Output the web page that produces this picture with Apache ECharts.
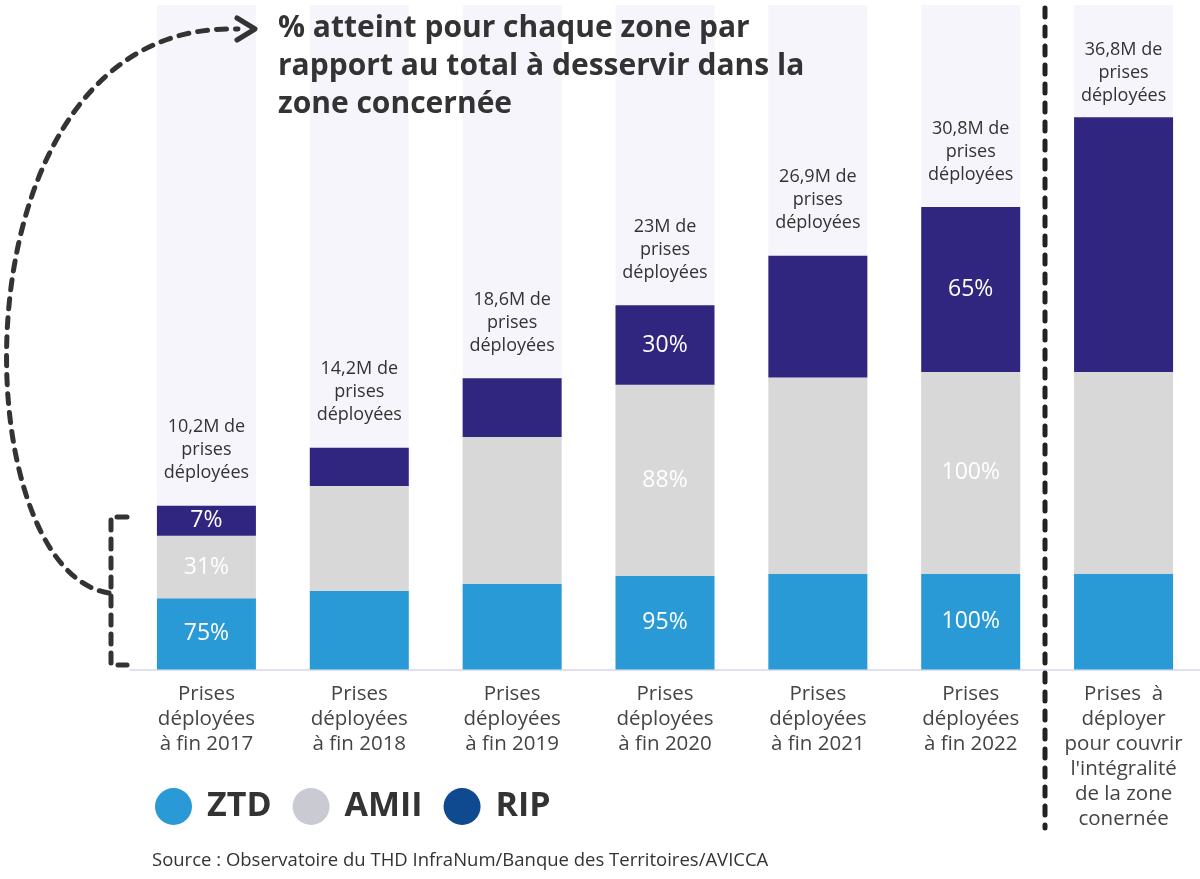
<!DOCTYPE html>
<html>
<head>
<meta charset="utf-8">
<script src="https://cdn.jsdelivr.net/npm/echarts@6/dist/echarts.min.js"></script>
<style>
html,body{margin:0;padding:0;background:#fff;}
#chart{width:1200px;height:879px;}
</style>
</head>
<body>
<div id="chart"></div>
<script>
// Categories (x axis labels)
var categories = [
  "Prises\ndéployées\nà fin 2017",
  "Prises\ndéployées\nà fin 2018",
  "Prises\ndéployées\nà fin 2019",
  "Prises\ndéployées\nà fin 2020",
  "Prises\ndéployées\nà fin 2021",
  "Prises\ndéployées\nà fin 2022",
  "Prises  à\ndéployer\npour couvrir\nl'intégralité\nde la zone\nconernée"
];
// Series values (millions of lines)
var ztdValues  = [4.75, 5.23, 5.72, 6.23, 6.37, 6.37, 6.37];
var amiiValues = [4.17, 7.00, 9.78, 12.75, 13.10, 13.47, 13.47];
var ripValues  = [2.00, 2.55, 3.91, 5.31, 8.12, 11.00, 16.97];
// Percentage labels inside segments
var ztdPct  = ["75%", "", "", "95%", "", "100%", ""];
var amiiPct = ["31%", "", "", "88%", "", "100%", ""];
var ripPct  = ["7%", "", "", "30%", "", "65%", ""];
// Total labels above the bars
var totalLabels = ["10,2M", "14,2M", "18,6M", "23M", "26,9M", "30,8M", "36,8M"];

var FONT = "Open Sans";
var chart = echarts.init(document.getElementById('chart'));

function pctLabel(arr, color) {
  return {
    show: true, position: 'inside', color: color, fontFamily: FONT,
    fontSize: 23, fontWeight: 500,
    formatter: function (p) { return arr[p.dataIndex]; }
  };
}

var totalData = ripValues.map(function (v, i) {
  if (i === ripValues.length - 1) return { value: 0, label: { distance: 10 } };
  return 0;
});

var option = {
  backgroundColor: '#ffffff',
  animation: false,
  title: [
    {
      text: "% atteint pour chaque zone par\nrapport au total à desservir dans la\nzone concernée",
      left: 278, top: 9, padding: 0,
      textStyle: { fontFamily: FONT, fontSize: 30, fontWeight: 'bold', color: '#333333', lineHeight: 38 }
    },
    {
      text: "Source : Observatoire du THD InfraNum/Banque des Territoires/AVICCA",
      left: 152, top: 851, padding: 0,
      textStyle: { fontFamily: FONT, fontSize: 18.5, fontWeight: 'normal', color: '#333333' }
    }
  ],
  legend: {
    left: 155, top: 788, padding: 0,
    icon: 'circle', itemWidth: 37, itemHeight: 37, itemGap: 21,
    selectedMode: false,
    textStyle: { fontFamily: FONT, fontSize: 34, fontWeight: 'bold', color: '#333333', padding: [0, 0, 0, 10] },
    data: [
      { name: 'ZTD', itemStyle: { color: '#2a9ad7' } },
      { name: 'AMII', itemStyle: { color: '#c9cad2' } },
      { name: 'RIP', itemStyle: { color: '#0f4a90' } }
    ]
  },
  grid: { left: 130, right: 0, top: 5, bottom: 209.5, containLabel: false },
  xAxis: {
    type: 'category', data: categories,
    axisLine: { show: true, lineStyle: { color: '#d6d6ec', width: 1.5 } },
    axisTick: { show: false },
    axisLabel: {
      interval: 0, margin: 12, color: '#444444', fontFamily: FONT, fontSize: 20.5, lineHeight: 25
    }
  },
  yAxis: {
    type: 'value', min: 0, max: 44.3, show: false,
    splitLine: { show: false }
  },
  series: [
    {
      name: 'ZTD', type: 'bar', stack: 'total', barWidth: 99,
      itemStyle: { color: '#2a9ad7' },
      showBackground: true,
      backgroundStyle: { color: '#f5f5fb' },
      label: pctLabel(ztdPct, '#ffffff'),
      data: ztdValues
    },
    {
      name: 'AMII', type: 'bar', stack: 'total', barWidth: 99,
      itemStyle: { color: '#d8d8d8' },
      label: pctLabel(amiiPct, '#ffffff'),
      data: amiiValues
    },
    {
      name: 'RIP', type: 'bar', stack: 'total', barWidth: 99,
      itemStyle: { color: '#30267f' },
      label: pctLabel(ripPct, '#ffffff'),
      data: ripValues
    },
    {
      name: 'RIP', type: 'bar', stack: 'total', barWidth: 99,
      silent: true, itemStyle: { color: 'transparent' },
      data: totalData,
      label: {
        show: true, position: 'top', distance: 21,
        color: '#333333', fontFamily: FONT, fontSize: 18, lineHeight: 23,
        formatter: function (p) { return totalLabels[p.dataIndex] + " de\nprises\ndéployées"; }
      }
    }
  ],
  graphic: [
    {
      type: 'line', silent: true, z: 100,
      shape: { x1: 1045, y1: 8, x2: 1045, y2: 828 },
      style: { stroke: '#222222', lineWidth: 5, lineDash: [9, 10], lineCap: 'round' }
    },
    {
      type: 'polyline', silent: true, z: 100,
      shape: { points: [[127, 517], [111, 517], [111, 665], [127, 665]] },
      style: { stroke: '#333333', fill: null, lineWidth: 5, lineDash: [10, 9], lineCap: 'round' }
    },
    {
      type: 'bezierCurve', silent: true, z: 100,
      shape: { x1: 109, y1: 593, cpx1: -40, cpy1: 570, cpx2: -50, cpy2: 20, x2: 238, y2: 29 },
      style: { stroke: '#333333', fill: null, lineWidth: 5, lineDash: [10, 9], lineCap: 'round' }
    },
    {
      type: 'polyline', silent: true, z: 100,
      shape: { points: [[237, 18], [255, 29], [237, 40]] },
      style: { stroke: '#333333', fill: null, lineWidth: 5, lineCap: 'round', lineJoin: 'round' }
    }
  ]
};
chart.setOption(option);
</script>
</body>
</html>
